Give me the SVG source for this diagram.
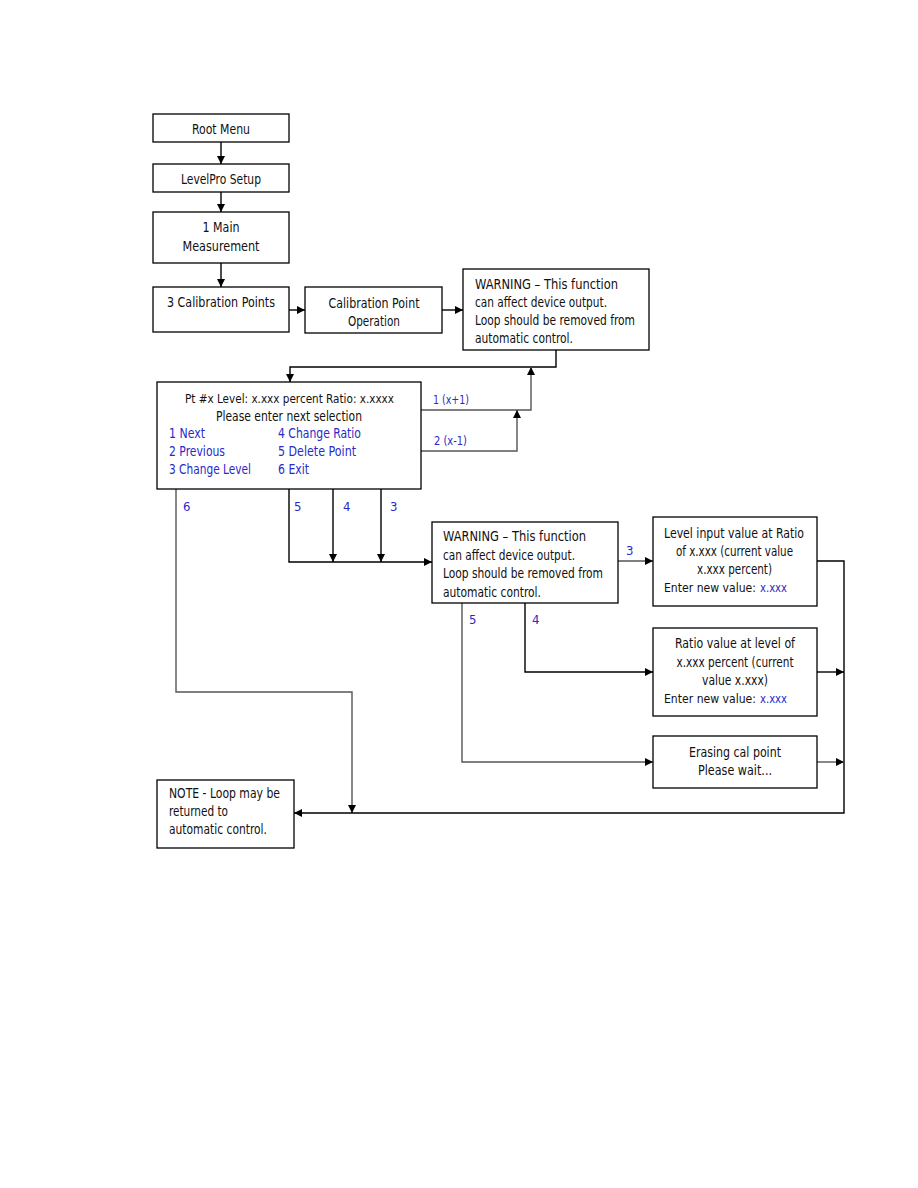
<svg xmlns="http://www.w3.org/2000/svg" width="918" height="1188" viewBox="0 0 918 1188">
<style>
.box{fill:#fff;stroke:#000;stroke-width:1.3}
text{font-family:'DejaVu Sans Condensed','Liberation Sans',sans-serif;font-size:14px;fill:#111}
.c{text-anchor:middle}
.b{fill:#2a2ac8}
.s{font-size:12.5px}
.lbl{font-size:13px;fill:#2a2ac8}
.ln{fill:none;stroke:#000;stroke-width:1.4}
.lg{fill:none;stroke:#555;stroke-width:1.4}
</style>
<defs>
<marker id="ah" viewBox="0 0 10 10" refX="10" refY="5" markerWidth="9" markerHeight="8" markerUnits="userSpaceOnUse" orient="auto">
<path d="M0,0 L10,5 L0,10 z" fill="#000"/>
</marker>
</defs>
<rect width="918" height="1188" fill="#fff"/>

<g id="connectors">
<path class="ln" d="M221,142 V164" marker-end="url(#ah)"/>
<path class="ln" d="M221,192 V212" marker-end="url(#ah)"/>
<path class="ln" d="M221,263 V287" marker-end="url(#ah)"/>
<path class="ln" d="M289,310 H305" marker-end="url(#ah)"/>
<path class="ln" d="M442,310 H463" marker-end="url(#ah)"/>
<path class="ln" d="M556,350 V367 H290 V382" marker-end="url(#ah)"/>
<path class="lg" d="M421,410 H531 V367" marker-end="url(#ah)"/>
<path class="lg" d="M421,451 H517 V410" marker-end="url(#ah)"/>
<path class="lg" d="M176,489 V692 H352 V813" marker-end="url(#ah)"/>
<path class="ln" d="M289,489 V562 H432" marker-end="url(#ah)"/>
<path class="ln" d="M333,489 V562" marker-end="url(#ah)"/>
<path class="ln" d="M381,489 V562" marker-end="url(#ah)"/>
<path class="lg" d="M618,561 H653" marker-end="url(#ah)"/>
<path class="ln" d="M525,603 V672 H653" marker-end="url(#ah)"/>
<path class="lg" d="M462,603 V762 H653" marker-end="url(#ah)"/>
<path class="ln" d="M817,561 H844 V813 H294" marker-end="url(#ah)"/>
<path class="ln" d="M817,672 H844" marker-end="url(#ah)"/>
<path class="lg" d="M817,762 H844" marker-end="url(#ah)"/>
<text class="lbl" x="433" y="404" textLength="36" lengthAdjust="spacingAndGlyphs">1 (x+1)</text>
<text class="lbl" x="434" y="445" textLength="33" lengthAdjust="spacingAndGlyphs">2 (x-1)</text>
<text class="lbl" x="183" y="511">6</text>
<text class="lbl" x="294" y="511">5</text>
<text class="lbl" x="343" y="511">4</text>
<text class="lbl" x="390" y="511">3</text>
<text class="lbl" x="626" y="555">3</text>
<text class="lbl" x="469" y="624">5</text>
<text class="lbl" x="532" y="624">4</text>
</g>

<g id="root-menu">
<rect class="box" x="153" y="114" width="136" height="28"/>
<text class="c" x="221" y="134" textLength="58" lengthAdjust="spacingAndGlyphs">Root Menu</text>
</g>
<g id="levelpro-setup">
<rect class="box" x="153" y="164" width="136" height="28"/>
<text class="c" x="221" y="184" textLength="80" lengthAdjust="spacingAndGlyphs">LevelPro Setup</text>
</g>
<g id="main-measurement">
<rect class="box" x="153" y="212" width="136" height="51"/>
<text class="c" x="221" y="232" textLength="37" lengthAdjust="spacingAndGlyphs">1 Main</text>
<text class="c" x="221" y="251" textLength="77" lengthAdjust="spacingAndGlyphs">Measurement</text>
</g>
<g id="calibration-points">
<rect class="box" x="153" y="287" width="136" height="45"/>
<text class="c" x="221" y="307" textLength="108" lengthAdjust="spacingAndGlyphs">3 Calibration Points</text>
</g>
<g id="calibration-point-operation">
<rect class="box" x="305" y="287" width="137" height="46"/>
<text class="c" x="374" y="308" textLength="91" lengthAdjust="spacingAndGlyphs">Calibration Point</text>
<text class="c" x="374" y="326" textLength="52" lengthAdjust="spacingAndGlyphs">Operation</text>
</g>
<g id="warning-1">
<rect class="box" x="463" y="269" width="186" height="81"/>
<text x="475" y="289" textLength="143" lengthAdjust="spacingAndGlyphs">WARNING – This function</text>
<text x="475" y="307" textLength="132" lengthAdjust="spacingAndGlyphs">can affect device output.</text>
<text x="475" y="325" textLength="160" lengthAdjust="spacingAndGlyphs">Loop should be removed from</text>
<text x="475" y="343" textLength="98" lengthAdjust="spacingAndGlyphs">automatic control.</text>
</g>
<g id="point-menu">
<rect class="box" x="157" y="382" width="264" height="107"/>
<text class="c s" x="289.5" y="403" textLength="209" lengthAdjust="spacingAndGlyphs">Pt #x Level: x.xxx percent Ratio: x.xxxx</text>
<text class="c" x="289" y="421" textLength="146" lengthAdjust="spacingAndGlyphs">Please enter next selection</text>
<text class="b" x="169" y="438" textLength="36" lengthAdjust="spacingAndGlyphs">1 Next</text>
<text class="b" x="169" y="456" textLength="56" lengthAdjust="spacingAndGlyphs">2 Previous</text>
<text class="b" x="169" y="474" textLength="82" lengthAdjust="spacingAndGlyphs">3 Change Level</text>
<text class="b" x="278" y="438" textLength="83" lengthAdjust="spacingAndGlyphs">4 Change Ratio</text>
<text class="b" x="278" y="456" textLength="78" lengthAdjust="spacingAndGlyphs">5 Delete Point</text>
<text class="b" x="278" y="474" textLength="31" lengthAdjust="spacingAndGlyphs">6 Exit</text>
</g>
<g id="warning-2">
<rect class="box" x="432" y="522" width="186" height="81"/>
<text x="443" y="541" textLength="143" lengthAdjust="spacingAndGlyphs">WARNING – This function</text>
<text x="443" y="560" textLength="132" lengthAdjust="spacingAndGlyphs">can affect device output.</text>
<text x="443" y="578" textLength="160" lengthAdjust="spacingAndGlyphs">Loop should be removed from</text>
<text x="443" y="597" textLength="98" lengthAdjust="spacingAndGlyphs">automatic control.</text>
</g>
<g id="level-input">
<rect class="box" x="653" y="517" width="164" height="89"/>
<text class="c" x="734" y="538" textLength="140" lengthAdjust="spacingAndGlyphs">Level input value at Ratio</text>
<text class="c" x="734.5" y="556" textLength="117" lengthAdjust="spacingAndGlyphs">of x.xxx (current value</text>
<text class="c" x="734.5" y="574" textLength="75" lengthAdjust="spacingAndGlyphs">x.xxx percent)</text>
<text class="s" x="664" y="592" textLength="92" lengthAdjust="spacingAndGlyphs">Enter new value:</text>
<text class="b s" x="760" y="592" textLength="27" lengthAdjust="spacingAndGlyphs">x.xxx</text>
</g>
<g id="ratio-value">
<rect class="box" x="653" y="628" width="164" height="88"/>
<text class="c" x="735" y="648" textLength="120" lengthAdjust="spacingAndGlyphs">Ratio value at level of</text>
<text class="c" x="735" y="667" textLength="117" lengthAdjust="spacingAndGlyphs">x.xxx percent (current</text>
<text class="c" x="735" y="685" textLength="66" lengthAdjust="spacingAndGlyphs">value x.xxx)</text>
<text class="s" x="664" y="703" textLength="92" lengthAdjust="spacingAndGlyphs">Enter new value:</text>
<text class="b s" x="760" y="703" textLength="27" lengthAdjust="spacingAndGlyphs">x.xxx</text>
</g>
<g id="erasing">
<rect class="box" x="653" y="736" width="164" height="52"/>
<text class="c" x="735" y="757" textLength="92" lengthAdjust="spacingAndGlyphs">Erasing cal point</text>
<text class="c" x="735" y="775" textLength="74" lengthAdjust="spacingAndGlyphs">Please wait...</text>
</g>
<g id="note">
<rect class="box" x="157" y="780" width="137" height="68"/>
<text x="169" y="798" textLength="111" lengthAdjust="spacingAndGlyphs">NOTE - Loop may be</text>
<text x="169" y="816" textLength="59" lengthAdjust="spacingAndGlyphs">returned to</text>
<text x="169" y="834" textLength="98" lengthAdjust="spacingAndGlyphs">automatic control.</text>
</g>
</svg>
